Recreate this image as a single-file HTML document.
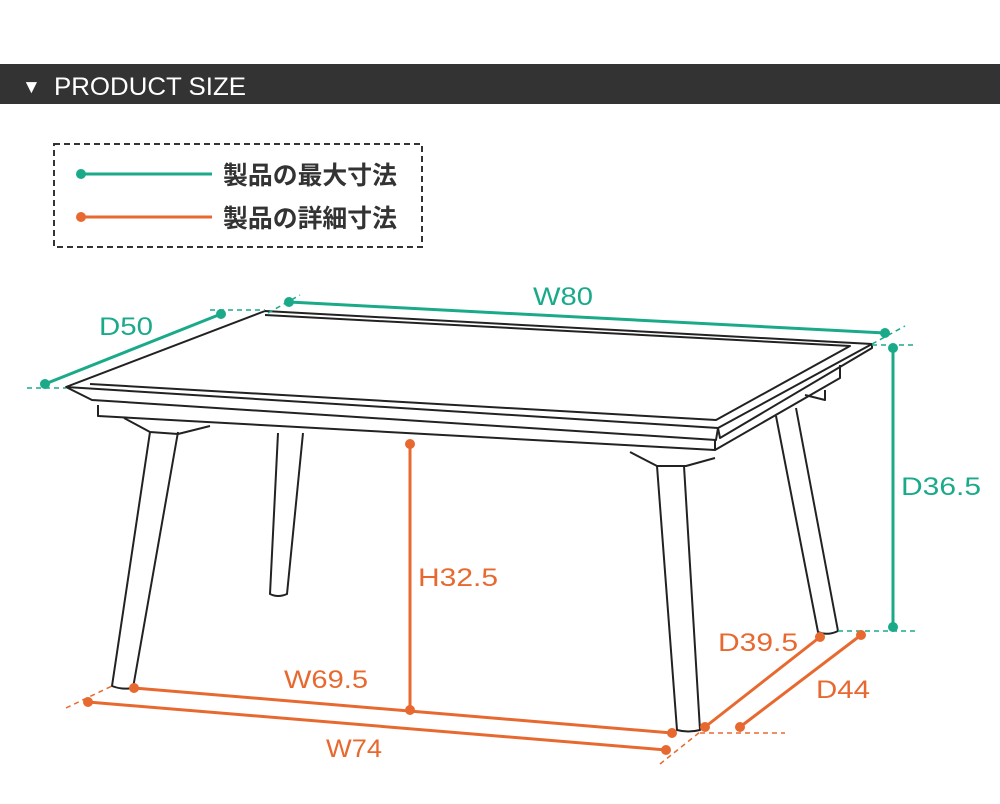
<!DOCTYPE html>
<html><head><meta charset="utf-8"><style>
body{margin:0;background:#fff;}
svg{display:block;}
text{font-family:"Liberation Sans","Noto Sans CJK JP",sans-serif;}
</style></head><body>
<svg width="1000" height="804" viewBox="0 0 1000 804" xmlns="http://www.w3.org/2000/svg">
<rect x="0" y="64" width="1000" height="40" fill="#333"/>
<text x="22" y="93" font-size="19" fill="#fff">▼</text>
<text x="54" y="95" font-size="25" fill="#fff" textLength="192" lengthAdjust="spacingAndGlyphs">PRODUCT SIZE</text>
<rect x="54" y="144" width="368" height="103" fill="none" stroke="#333" stroke-width="2" stroke-dasharray="6,4"/>
<line x1="81" y1="174" x2="212" y2="174" stroke="#1aaa8a" stroke-width="3"/>
<circle cx="81" cy="174" r="5" fill="#1aaa8a"/>
<line x1="81" y1="217" x2="212" y2="217" stroke="#e8692f" stroke-width="3"/>
<circle cx="81" cy="217" r="5" fill="#e8692f"/>
<text x="223" y="184" font-size="25" font-weight="bold" fill="#333" textLength="174" lengthAdjust="spacingAndGlyphs">製品の最大寸法</text>
<text x="223" y="227" font-size="25" font-weight="bold" fill="#333" textLength="174" lengthAdjust="spacingAndGlyphs">製品の詳細寸法</text>

<g fill="none" stroke="#222" stroke-width="2" stroke-linejoin="round">
<path d="M150,432 L112,686 Q122,690 133,688 L178,432"/>
<path d="M278,433 L270,594 Q278,598 287,594 L303,433"/>
<path d="M657,466 L677,730 Q688,733 700,730 L684,466"/>
<path d="M776,416 L818,632 Q828,636 838,631 L796,408"/>
<path d="M98,405 L98,416 L715,450 L715,440"/>
<path d="M124,418 L150,432 L178,434 L210,426"/>
<path d="M630,452 L657,466 L686,466 L715,458"/>
<path d="M715,450 L840,378 L840,365"/>
<path d="M805,395 L825,400 L825,390"/>
<path d="M265,311 L872,344 L718,428 L66,387 Z"/>
<path d="M265,315 L850,346 L716,420 L90,384"/>
<path d="M66,387 L92,400 L716,440 L718,428"/>
<path d="M718,428 L720,438 L872,348 L872,344"/>
</g>

<g stroke="#1aaa8a" fill="#1aaa8a">
<line x1="45" y1="384" x2="221" y2="314" stroke-width="3"/>
<line x1="289" y1="302" x2="885" y2="333" stroke-width="3"/>
<line x1="893" y1="348" x2="893" y2="627" stroke-width="3"/>
<g stroke-width="1.5" stroke-dasharray="5,4">
<line x1="27" y1="388" x2="66" y2="388"/>
<line x1="210" y1="310" x2="265" y2="310"/>
<line x1="268" y1="313" x2="300" y2="295"/>
<line x1="872" y1="344" x2="905" y2="326"/>
<line x1="872" y1="345" x2="915" y2="345"/>
<line x1="838" y1="631" x2="915" y2="631"/>
</g>
<circle cx="45" cy="384" r="5" stroke="none"/><circle cx="221" cy="314" r="5" stroke="none"/>
<circle cx="289" cy="302" r="5" stroke="none"/><circle cx="885" cy="333" r="5" stroke="none"/>
<circle cx="893" cy="348" r="5" stroke="none"/><circle cx="893" cy="627" r="5" stroke="none"/>
</g>
<g fill="#1aaa8a" font-size="25">
<text x="99" y="335" textLength="54" lengthAdjust="spacingAndGlyphs">D50</text>
<text x="533" y="305" textLength="60" lengthAdjust="spacingAndGlyphs">W80</text>
<text x="901" y="495" textLength="80" lengthAdjust="spacingAndGlyphs">D36.5</text>
</g>

<g stroke="#e8692f" fill="#e8692f">
<line x1="410" y1="444" x2="410" y2="710" stroke-width="3"/>
<line x1="134" y1="688" x2="672" y2="733" stroke-width="3"/>
<line x1="88" y1="702" x2="666" y2="750" stroke-width="3"/>
<line x1="705" y1="727" x2="820" y2="637" stroke-width="3"/>
<line x1="740" y1="727" x2="861" y2="635" stroke-width="3"/>
<g stroke-width="1.5" stroke-dasharray="5,4">
<line x1="66" y1="708" x2="112" y2="686"/>
<line x1="660" y1="764" x2="700" y2="732"/>
<line x1="700" y1="733" x2="785" y2="733"/>
</g>
<circle cx="410" cy="444" r="5" stroke="none"/><circle cx="410" cy="710" r="5" stroke="none"/>
<circle cx="134" cy="688" r="5" stroke="none"/><circle cx="672" cy="733" r="5" stroke="none"/>
<circle cx="88" cy="702" r="5" stroke="none"/><circle cx="666" cy="750" r="5" stroke="none"/>
<circle cx="705" cy="727" r="5" stroke="none"/><circle cx="820" cy="637" r="5" stroke="none"/>
<circle cx="740" cy="727" r="5" stroke="none"/><circle cx="861" cy="635" r="5" stroke="none"/>
</g>
<g fill="#e8692f" font-size="25">
<text x="418" y="586" textLength="80" lengthAdjust="spacingAndGlyphs">H32.5</text>
<text x="284" y="688" textLength="84" lengthAdjust="spacingAndGlyphs">W69.5</text>
<text x="326" y="757" textLength="56" lengthAdjust="spacingAndGlyphs">W74</text>
<text x="718" y="651" textLength="80" lengthAdjust="spacingAndGlyphs">D39.5</text>
<text x="816" y="698" textLength="54" lengthAdjust="spacingAndGlyphs">D44</text>
</g>
</svg>
</body></html>
